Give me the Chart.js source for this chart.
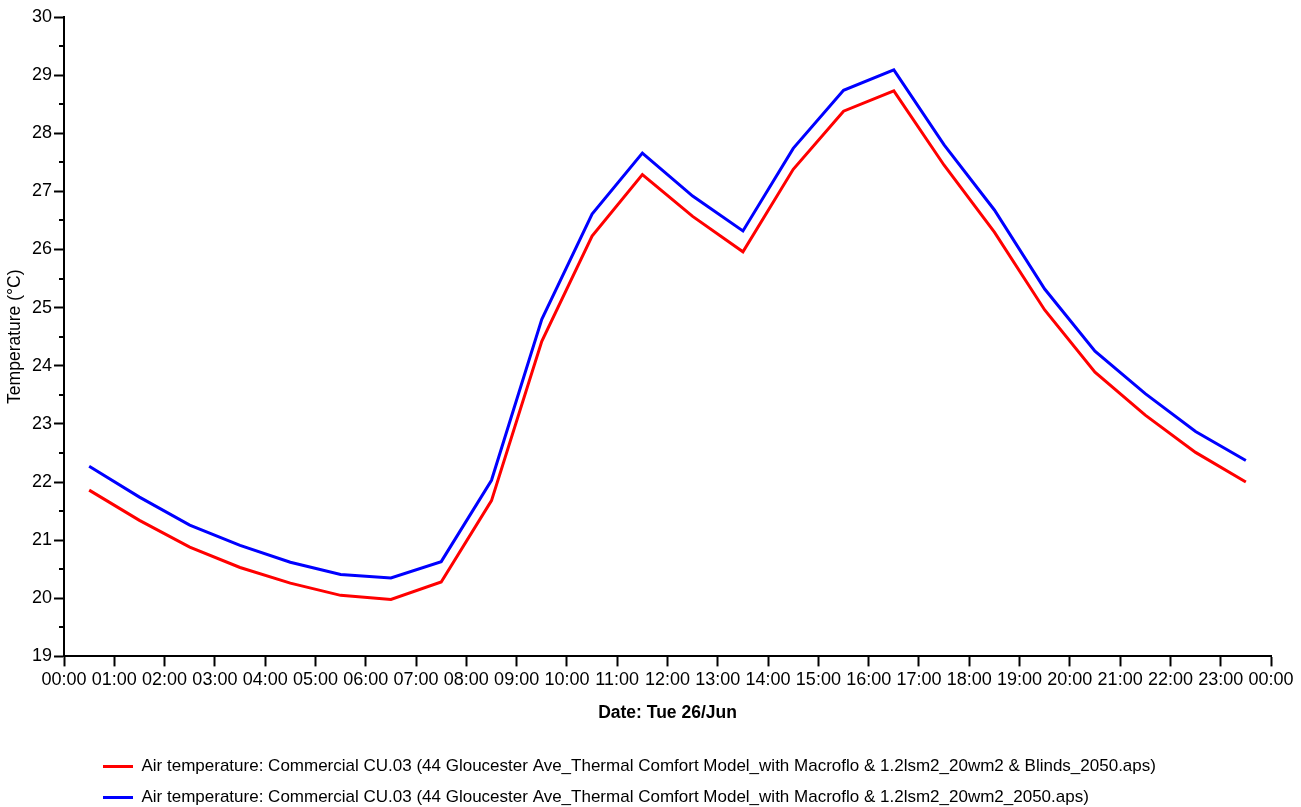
<!DOCTYPE html>
<html>
<head>
<meta charset="utf-8">
<script src="https://cdn.jsdelivr.net/npm/chart.js@4.4.1/dist/chart.umd.min.js"></script>
<style>
  html, body { margin: 0; padding: 0; background: #fff; }
  #wrap { position: relative; width: 1301px; height: 807px; }
</style>
</head>
<body>
<div id="wrap"><canvas id="chart"></canvas></div>
<script>
// Half-hourly sample times (hh:mm) for Tue 26/Jun
const times = ["00:30","01:30","02:30","03:30","04:30","05:30","06:30","07:30",
               "08:30","09:30","10:30","11:30","12:30","13:30","14:30","15:30",
               "16:30","17:30","18:30","19:30","20:30","21:30","22:30","23:30"];

// Air temperature (°C), model with blinds
const withBlinds = [21.86, 21.34, 20.88, 20.53, 20.26, 20.05, 19.98, 20.28,
                    21.68, 24.42, 26.23, 27.29, 26.57, 25.96, 27.38, 28.38,
                    28.73, 27.45, 26.30, 24.96, 23.89, 23.15, 22.51, 22.00];

// Air temperature (°C), model without blinds
const withoutBlinds = [22.27, 21.74, 21.26, 20.91, 20.62, 20.41, 20.35, 20.63,
                       22.03, 24.80, 26.61, 27.66, 26.92, 26.32, 27.74, 28.74,
                       29.09, 27.80, 26.68, 25.32, 24.25, 23.52, 22.87, 22.37];

// Hour labels along the time axis (0..24 h)
const hourLabels = ["00:00","01:00","02:00","03:00","04:00","05:00","06:00","07:00",
                    "08:00","09:00","10:00","11:00","12:00","13:00","14:00","15:00",
                    "16:00","17:00","18:00","19:00","20:00","21:00","22:00","23:00","00:00"];

const seriesLabels = [
  "Air temperature: Commercial CU.03 (44 Gloucester Ave_Thermal Comfort Model_with Macroflo & 1.2lsm2_20wm2 & Blinds_2050.aps)",
  "Air temperature: Commercial CU.03 (44 Gloucester Ave_Thermal Comfort Model_with Macroflo & 1.2lsm2_20wm2_2050.aps)"
];

const toHours = t => { const [h, m] = t.split(":").map(Number); return h + m / 60; };
const points = vals => times.map((t, i) => ({ x: toHours(t), y: vals[i] }));

const FONT = "'Liberation Sans', Arial, sans-serif";

// Short unlabeled ticks at every half degree on the temperature axis
const minorTicks = {
  id: 'minorTicks',
  afterDraw(chart) {
    const ys = chart.scales.y, ctx = chart.ctx;
    ctx.save();
    ctx.strokeStyle = '#000';
    ctx.lineWidth = 2;
    for (let v = ys.min + 0.5; v < ys.max; v += 1) {
      const py = Math.round(ys.getPixelForValue(v));
      ctx.beginPath();
      ctx.moveTo(ys.right - 5, py);
      ctx.lineTo(ys.right, py);
      ctx.stroke();
    }
    ctx.restore();
  }
};

// Indent the legend rows from the left edge and nudge them down
const legendIndent = {
  id: 'legendIndent',
  afterLayout(chart) {
    const lg = chart.legend;
    if (lg) { lg.left += 88; lg.top += 9; lg.bottom += 9; }
  }
};

new Chart(document.getElementById('chart'), {
  type: 'line',
  data: {
    datasets: [
      { label: seriesLabels[0], data: points(withBlinds), borderColor: '#ff0000', backgroundColor: '#ff0000', borderWidth: 3 },
      { label: seriesLabels[1], data: points(withoutBlinds), borderColor: '#0000ff', backgroundColor: '#0000ff', borderWidth: 3 }
    ]
  },
  options: {
    responsive: true,
    maintainAspectRatio: false,
    animation: false,
    layout: { padding: { top: 17, right: 30, left: 1, bottom: 0 } },
    elements: {
      line: { borderWidth: 3, tension: 0 },
      point: { radius: 0, hoverRadius: 0 }
    },
    plugins: {
      tooltip: { enabled: false },
      legend: {
        position: 'bottom',
        align: 'start',
        labels: {
          font: { family: FONT, size: 17 },
          color: '#000',
          usePointStyle: true,
          pointStyle: 'line',
          pointStyleWidth: 30,
          boxWidth: 30,
          padding: 14
        }
      }
    },
    scales: {
      x: {
        type: 'linear',
        min: 0,
        max: 24,
        border: { display: true, color: '#000', width: 2 },
        grid: { display: true, drawOnChartArea: false, drawTicks: true, tickLength: 10, tickColor: '#000', tickWidth: 2 },
        ticks: {
          stepSize: 1,
          autoSkip: false,
          maxRotation: 0,
          padding: 3,
          color: '#000',
          font: { family: FONT, size: 18 },
          callback: v => hourLabels[v]
        },
        title: {
          display: true,
          text: 'Date: Tue 26/Jun',
          color: '#000',
          font: { family: FONT, size: 17.5, weight: 'bold' },
          padding: { top: 9, bottom: 11 }
        }
      },
      y: {
        min: 19,
        max: 30,
        border: { display: true, color: '#000', width: 2 },
        grid: { display: true, drawOnChartArea: false, drawTicks: true, tickLength: 10, tickColor: '#000', tickWidth: 2 },
        ticks: {
          stepSize: 1,
          padding: 2,
          color: '#000',
          font: { family: FONT, size: 18 }
        },
        title: {
          display: true,
          text: 'Temperature (°C)',
          color: '#000',
          font: { family: FONT, size: 17.5 },
          padding: { top: 4, bottom: 4 }
        }
      }
    }
  },
  plugins: [minorTicks, legendIndent]
});
</script>
</body>
</html>
